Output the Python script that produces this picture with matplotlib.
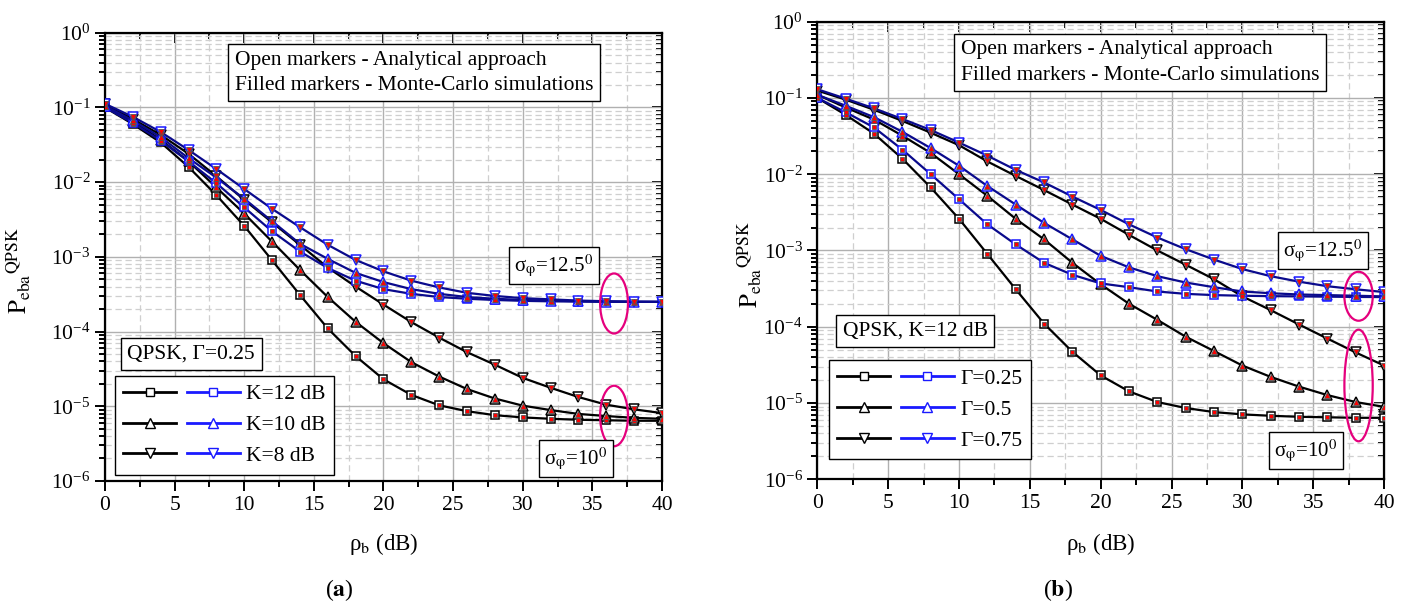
import matplotlib
matplotlib.use('Agg')
import matplotlib.pyplot as plt
from matplotlib.lines import Line2D
from matplotlib.patches import Ellipse
from matplotlib.legend_handler import HandlerTuple
from matplotlib.ticker import LogLocator, MultipleLocator, NullFormatter

plt.rcParams['font.family'] = ['Liberation Serif', 'DejaVu Serif']
plt.rcParams['mathtext.fontset'] = 'stix'

# SNR per bit (dB)
rho = [0, 2, 4, 6, 8, 10, 12, 14, 16, 18, 20, 22, 24, 26, 28, 30, 32, 34, 36, 38, 40]

# (a) QPSK, Gamma=0.25 -- K = 12, 10, 8 dB
a_k12_s10 = [0.100, 0.060, 0.034, 0.016, 0.0067, 0.0026, 9.0e-4, 3.1e-4, 1.1e-4, 4.7e-5, 2.3e-5,
             1.42e-5, 1.03e-5, 8.6e-6, 7.6e-6, 7.1e-6, 6.8e-6, 6.6e-6, 6.5e-6, 6.4e-6, 6.4e-6]
a_k10_s10 = [0.105, 0.065, 0.037, 0.019, 0.0085, 0.0038, 1.6e-3, 6.7e-4, 2.9e-4, 1.35e-4, 7.0e-5,
             3.9e-5, 2.5e-5, 1.7e-5, 1.27e-5, 1.02e-5, 8.9e-6, 7.9e-6, 7.4e-6, 7.0e-6, 6.8e-6]
a_k8_s10 = [0.110, 0.070, 0.043, 0.024, 0.012, 0.0058, 2.9e-3, 1.45e-3, 7.2e-4, 4.0e-4, 2.3e-4,
            1.34e-4, 8.3e-5, 5.3e-5, 3.6e-5, 2.4e-5, 1.77e-5, 1.33e-5, 1.05e-5, 9.1e-6, 8.1e-6]
a_k12_s125 = [0.100, 0.062, 0.036, 0.019, 0.0097, 0.0046, 2.2e-3, 1.18e-3, 7.1e-4, 4.8e-4, 3.7e-4,
              3.2e-4, 2.9e-4, 2.75e-4, 2.65e-4, 2.58e-4, 2.54e-4, 2.52e-4, 2.5e-4, 2.5e-4, 2.5e-4]
a_k10_s125 = [0.105, 0.067, 0.040, 0.021, 0.0115, 0.0060, 3.0e-3, 1.5e-3, 9.4e-4, 6.1e-4, 4.6e-4,
              3.7e-4, 3.2e-4, 2.9e-4, 2.75e-4, 2.65e-4, 2.6e-4, 2.55e-4, 2.52e-4, 2.5e-4, 2.5e-4]
a_k8_s125 = [0.112, 0.075, 0.047, 0.027, 0.015, 0.0081, 4.4e-3, 2.5e-3, 1.45e-3, 9.1e-4, 6.4e-4,
             4.8e-4, 3.9e-4, 3.3e-4, 3.0e-4, 2.8e-4, 2.7e-4, 2.6e-4, 2.55e-4, 2.52e-4, 2.5e-4]

# (b) QPSK, K=12 dB -- Gamma = 0.25, 0.5, 0.75
b_g25_s10 = a_k12_s10
b_g50_s10 = [0.110, 0.075, 0.052, 0.032, 0.019, 0.010, 5.2e-3, 2.6e-3, 1.4e-3, 6.9e-4, 3.6e-4,
             2.0e-4, 1.23e-4, 7.4e-5, 4.8e-5, 3.1e-5, 2.2e-5, 1.64e-5, 1.27e-5, 1.03e-5, 8.9e-6]
b_g75_s10 = [0.125, 0.095, 0.070, 0.050, 0.035, 0.024, 0.0147, 0.0095, 6.2e-3, 4.0e-3, 2.6e-3,
             1.6e-3, 1.0e-3, 6.5e-4, 4.2e-4, 2.5e-4, 1.65e-4, 1.07e-4, 7.0e-5, 4.6e-5, 3.1e-5]
b_g25_s125 = [0.100, 0.065, 0.041, 0.021, 0.010, 4.7e-3, 2.2e-3, 1.2e-3, 6.9e-4, 4.8e-4, 3.7e-4,
              3.3e-4, 2.9e-4, 2.7e-4, 2.6e-4, 2.55e-4, 2.52e-4, 2.5e-4, 2.48e-4, 2.46e-4, 2.45e-4]
b_g50_s125 = [0.110, 0.079, 0.056, 0.036, 0.022, 0.0129, 7.0e-3, 4.0e-3, 2.3e-3, 1.4e-3, 8.5e-4,
              6.0e-4, 4.6e-4, 3.8e-4, 3.3e-4, 2.9e-4, 2.75e-4, 2.65e-4, 2.6e-4, 2.55e-4, 2.5e-4]
b_g75_s125 = [0.130, 0.098, 0.073, 0.053, 0.038, 0.026, 0.0175, 0.0114, 7.8e-3, 5.1e-3, 3.4e-3,
              2.2e-3, 1.48e-3, 1.04e-3, 7.6e-4, 5.7e-4, 4.6e-4, 3.9e-4, 3.4e-4, 3.1e-4, 2.85e-4]

markers = ['s', '^', 'v']
a_labels = ['K=12 dB', 'K=10 dB', 'K=8 dB']
b_labels = ['Γ=0.25', 'Γ=0.5', 'Γ=0.75']

FS = 15.5
PINK = '#e5007d'
NAVY = '#0a0a8c'
BLUE = '#1a1aff'


def draw_curves(ax, black, blue):
    for series, col, mcol in [(black, 'black', 'black'), (blue, NAVY, BLUE)]:
        for y, m in zip(series, markers):
            ms = 6 if m == 's' else 7
            # analytical: open markers
            ax.plot(rho, y, color=col, lw=1.6, marker=m, ms=ms, mfc='white',
                    mec=mcol, mew=1.1, zorder=3)
            # monte-carlo: filled markers
            ax.plot(rho, y, ls='none', marker=m, ms=ms - 2.6, mfc='red',
                    mec='#555555', mew=0.6, zorder=4)


def style_axes(ax):
    ax.set_yscale('log')
    ax.set_xlim(0, 40)
    ax.set_ylim(1e-6, 1)
    ax.xaxis.set_major_locator(MultipleLocator(5))
    ax.xaxis.set_minor_locator(MultipleLocator(2.5))
    ax.yaxis.set_major_locator(LogLocator(base=10, numticks=10))
    ax.yaxis.set_minor_locator(LogLocator(base=10, subs=range(2, 10), numticks=20))
    ax.yaxis.set_minor_formatter(NullFormatter())
    ax.grid(True, which='major', color='#b0b0b0', lw=1.0, ls='-', zorder=0)
    ax.grid(True, which='minor', color='#cfcfcf', lw=0.9, ls=(0, (5, 3)), zorder=0)
    ax.tick_params(which='both', direction='out', labelsize=15.5, width=1.4)
    ax.tick_params(which='major', length=7)
    ax.tick_params(which='minor', length=4)
    for s in ax.spines.values():
        s.set_linewidth(1.6)
    top = ax.secondary_xaxis('top')
    top.xaxis.set_major_locator(MultipleLocator(5))
    top.xaxis.set_minor_locator(MultipleLocator(2.5))
    top.tick_params(which='both', direction='in', labeltop=False, width=1.4)
    top.tick_params(which='major', length=7)
    top.tick_params(which='minor', length=4)
    right = ax.secondary_yaxis('right')
    right.tick_params(which='both', direction='in', labelright=False, width=1.4)
    right.tick_params(which='major', length=7)
    right.tick_params(which='minor', length=4)
    ax.set_xlabel('ρ$_{\\mathrm{b}}$ (dB)', fontsize=16.5)
    ax.xaxis.set_label_coords(0.5, -0.112)
    ax.set_ylabel('$\\mathrm{P}_{\\mathrm{eba}}{}^{\\mathrm{QPSK}}$', fontsize=18)


def box(ax, x, y, s, size=FS, pad=0.3, **kw):
    ax.text(x, y, s, transform=ax.transAxes, ha='center', va='center', fontsize=size,
            bbox=dict(boxstyle='square,pad=%g' % pad, fc='white', ec='black', lw=1.0),
            zorder=6, **kw)


def legend(ax, labels, anchor):
    handles = []
    for m in markers:
        ms = 6 if m == 's' else 7
        h1 = Line2D([], [], color='black', lw=2, marker=m, ms=ms, mfc='white', mec='black')
        h2 = Line2D([], [], color=BLUE, lw=2, marker=m, ms=ms, mfc='white', mec=BLUE)
        handles.append((h1, h2))
    leg = ax.legend(handles, labels, handler_map={tuple: HandlerTuple(ndivide=None, pad=0.5)},
                    loc='upper left', bbox_to_anchor=anchor, borderaxespad=0,
                    handlelength=5.4, handletextpad=0.3, labelspacing=0.5,
                    fontsize=FS, fancybox=False, edgecolor='black', framealpha=1,
                    numpoints=1, borderpad=0.4)
    leg.get_frame().set_linewidth(1.0)
    leg.set_zorder(6)


def ellipse(ax, cx, cy, w, h):
    ax.add_patch(Ellipse((cx, cy), w, h, transform=ax.transAxes, fill=False,
                         ec=PINK, lw=1.6, zorder=5))


fig = plt.figure(figsize=(14.09, 6.06), dpi=100)
ax1 = fig.add_axes([0.0745, 0.2063, 0.3953, 0.7396])
ax2 = fig.add_axes([0.5801, 0.2091, 0.4022, 0.7551])

sig125 = 'σ$_{\\mathrm{φ}}$=12.5$^{0}$'
sig10 = 'σ$_{\\mathrm{φ}}$=10$^{0}$'
note = 'Open markers - Analytical approach\nFilled markers - Monte-Carlo simulations'

# panel (a)
style_axes(ax1)
draw_curves(ax1, [a_k12_s10, a_k10_s10, a_k8_s10], [a_k12_s125, a_k10_s125, a_k8_s125])
ax1.yaxis.set_label_coords(-0.13, 0.47)
box(ax1, 0.555, 0.911, note, linespacing=1.45, multialignment='left')
box(ax1, 0.806, 0.481, sig125, size=15, pad=0.25)
box(ax1, 0.846, 0.05, sig10, size=15, pad=0.25)
box(ax1, 0.155, 0.283, 'QPSK, Γ=0.25')
legend(ax1, a_labels, (0.0175, 0.235))
ellipse(ax1, 0.914, 0.396, 0.05, 0.134)
ellipse(ax1, 0.914, 0.145, 0.05, 0.135)

# panel (b)
style_axes(ax2)
draw_curves(ax2, [b_g25_s10, b_g50_s10, b_g75_s10], [b_g25_s125, b_g50_s125, b_g75_s125])
ax2.yaxis.set_label_coords(-0.095, 0.47)
box(ax2, 0.569, 0.911, note, linespacing=1.45, multialignment='left')
box(ax2, 0.892, 0.50, sig125, size=15, pad=0.25)
box(ax2, 0.862, 0.063, sig10, size=15, pad=0.25)
box(ax2, 0.1725, 0.325, 'QPSK, K=12 dB')
legend(ax2, b_labels, (0.02, 0.26))
ellipse(ax2, 0.955, 0.40, 0.05, 0.107)
ellipse(ax2, 0.955, 0.205, 0.05, 0.244)

fig.text(0.241, 0.026, '($\\mathbf{a}$)', ha='center', va='center', fontsize=17)
fig.text(0.751, 0.026, '($\\mathbf{b}$)', ha='center', va='center', fontsize=17)

fig.savefig('out.png', dpi=100)
